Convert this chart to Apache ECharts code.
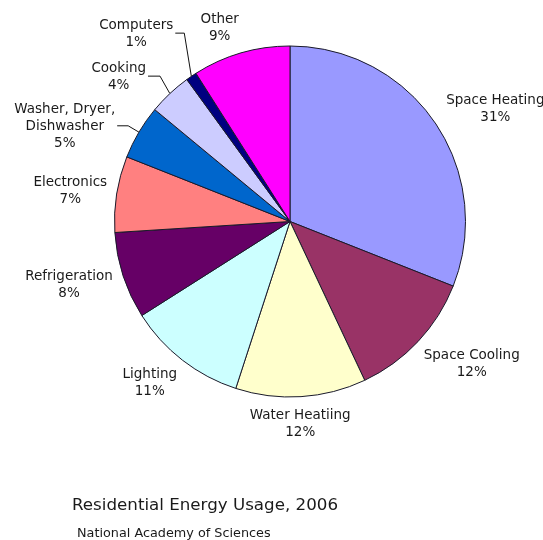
<!DOCTYPE html>
<html>
<head>
<meta charset="utf-8">
<script src="https://cdn.jsdelivr.net/npm/echarts@6/dist/echarts.min.js"></script>
<style>html,body{margin:0;padding:0;background:#fff;}#c{width:543px;height:540px;}</style>
</head>
<body>
<div id="c"></div>
<script>
// ---- data ----
const categories = ['Space Heating', 'Space Cooling', 'Water Heatiing', 'Lighting', 'Refrigeration',
  'Electronics', 'Washer, Dryer,\nDishwasher', 'Cooking', 'Computers', 'Other'];
const values = [31, 12, 12, 11, 8, 7, 5, 4, 1, 9];
const titleText = 'Residential Energy Usage, 2006';
const sourceText = 'National Academy of Sciences';

// ---- styles ----
const colors = ['#9999ff', '#993366', '#ffffcc', '#ccffff', '#660066',
  '#ff8080', '#0066cc', '#ccccff', '#000080', '#ff00ff'];
// label angle fine-tuning (deg) for labels placed around the pie
const labelShift = [5.4, -5, 0.7, 3.2, 2, -1.2, 0, 0, 0, -3.8];
// leader lines: [first segment length, angle shift (deg), horizontal length]
const leaders = { 6: [12.5, 0, 11], 7: [19.5, 1.4, 12], 8: [40.5, 4.9, 9] };
const CX = 290, CY = 221.5, R = 175.5, R_LABEL = 183;

const total = values.reduce((a, b) => a + b, 0);
const midAngles = [];
let acc = 0;
values.forEach(v => { midAngles.push((acc + v / 2) / total * 360); acc += v; });

const chart = echarts.init(document.getElementById('c'));
chart.setOption({
  animation: false,
  backgroundColor: '#fff',
  title: [
    { text: titleText, left: 72, top: 497, padding: 0,
      textStyle: { fontFamily: 'DejaVu Sans', fontSize: 16.7, fontWeight: 'normal', color: '#1a1a1a' } },
    { text: sourceText, left: 77, top: 527.5, padding: 0,
      textStyle: { fontFamily: 'DejaVu Sans', fontSize: 12.8, fontWeight: 'normal', color: '#1a1a1a' } }
  ],
  series: [{
    type: 'pie',
    center: [CX, CY],
    radius: R,
    startAngle: 90,
    clockwise: true,
    avoidLabelOverlap: false,
    itemStyle: { borderColor: '#1a1a2a', borderWidth: 1 },
    emphasis: { disabled: true },
    label: {
      show: true, position: 'outside', formatter: '{b}\n{c}%',
      fontFamily: 'DejaVu Sans', fontSize: 13.5, lineHeight: 17, color: '#1a1a1a', align: 'center'
    },
    labelLine: { show: false, lineStyle: { color: '#111', width: 1 } },
    labelLayout: function (p) {
      const i = p.dataIndex;
      const w = p.labelRect.width / 2, h = p.labelRect.height / 2;
      const L = leaders[i];
      if (!L) {
        const b = (midAngles[i] + labelShift[i]) * Math.PI / 180;
        const ux = Math.sin(b), uy = -Math.cos(b);
        const d = R_LABEL + Math.abs(ux) * w + Math.abs(uy) * h;
        return { x: CX + d * ux, y: CY + d * uy, align: 'center', verticalAlign: 'middle' };
      }
      const a = midAngles[i] * Math.PI / 180;
      const dx = Math.sin(a), dy = -Math.cos(a);
      const a2 = (midAngles[i] + L[1]) * Math.PI / 180;
      const arc = [CX + R * dx, CY + R * dy];
      const elbow = [CX + (R + L[0]) * Math.sin(a2), CY - (R + L[0]) * Math.cos(a2)];
      const end = [elbow[0] - L[2], elbow[1]];
      return {
        x: end[0] - 2 - w, y: elbow[1] + 1, align: 'center', verticalAlign: 'middle',
        labelLinePoints: [arc, elbow, end]
      };
    },
    data: categories.map((n, i) => ({
      name: n, value: values[i],
      itemStyle: { color: colors[i] },
      labelLine: { show: !!leaders[i] }
    }))
  }]
});
</script>
</body>
</html>
